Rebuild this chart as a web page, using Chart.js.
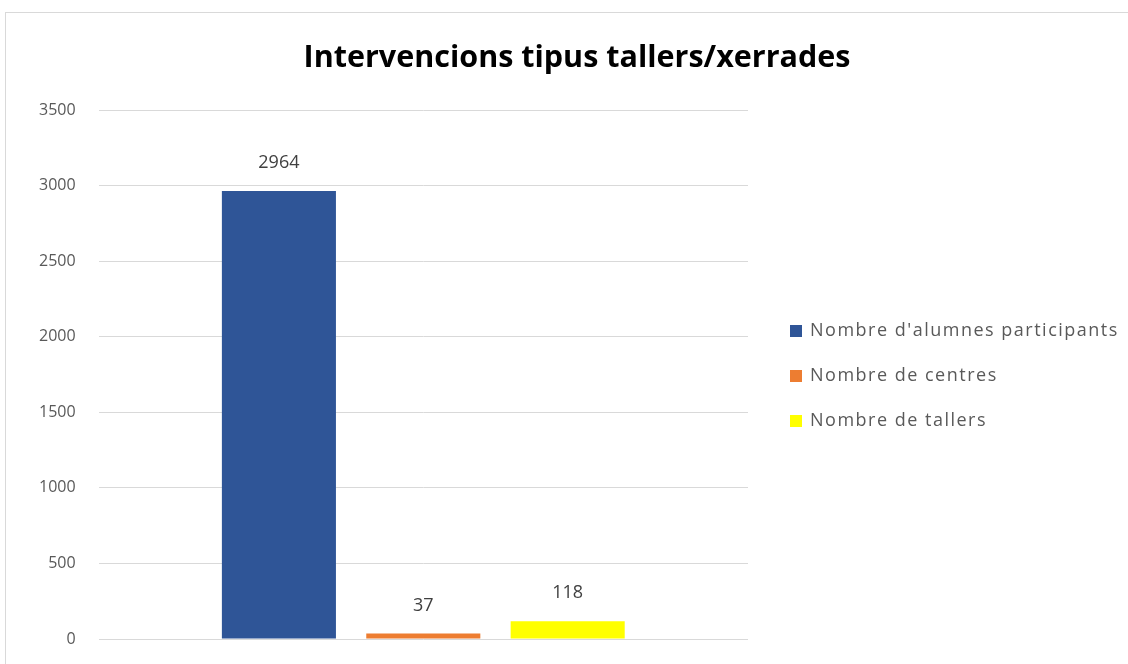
<!DOCTYPE html>
<html><head><meta charset="utf-8">
<script src="https://cdn.jsdelivr.net/npm/chart.js@4"></script>
<style>html,body{margin:0;padding:0;background:#fff}#wrap{width:1128px;height:664px;position:relative}</style>
</head><body><div id="wrap"><canvas id="c" width="1128" height="664"></canvas></div>
<script>
const categories = [''];
const seriesNames = ["Nombre d'alumnes participants", 'Nombre de centres', 'Nombre de tallers'];
const seriesValues = [[2964], [37], [118]];
const seriesColors = ['#2F5597', '#ED7D31', '#FFFF00'];
const yTicks = [0, 500, 1000, 1500, 2000, 2500, 3000, 3500];
const titleText = 'Intervencions tipus tallers/xerrades';

const frame = {
  id: 'frame',
  beforeDraw(chart) {
    const ctx = chart.ctx;
    ctx.save();
    ctx.fillStyle = '#fff';
    ctx.fillRect(0, 0, chart.width, chart.height);
    ctx.strokeStyle = '#d9d9d9';
    ctx.lineWidth = 1;
    ctx.strokeRect(5.5, 12.5, chart.width + 10, chart.height + 10);
    ctx.restore();
  },
  afterDraw(chart) {
    const ctx = chart.ctx;
    ctx.save();
    // title
    ctx.font = 'bold 30.5px "Open Sans"';
    ctx.fillStyle = '#000';
    ctx.textAlign = 'center';
    ctx.textBaseline = 'middle';
    ctx.fillText(titleText, 577, 58);
    // legend
    ctx.font = '18px "Open Sans"';
    ctx.letterSpacing = '1.5px';
    ctx.textAlign = 'left';
    chart.data.datasets.forEach((ds, i) => {
      const cy = 331 + i * 45;
      ctx.fillStyle = ds.backgroundColor;
      ctx.fillRect(790, cy - 6, 12, 12);
      ctx.fillStyle = '#595959';
      ctx.fillText(ds.label, 810, cy);
    });
    ctx.restore();
  }
};
const valueLabels = {
  id: 'valueLabels',
  afterDatasetsDraw(chart) {
    const ctx = chart.ctx;
    ctx.save();
    ctx.font = '18px "Open Sans"';
    ctx.fillStyle = '#404040';
    ctx.textAlign = 'center';
    ctx.textBaseline = 'middle';
    chart.data.datasets.forEach((ds, i) => {
      chart.getDatasetMeta(i).data.forEach((bar, j) => {
        ctx.fillText(String(ds.data[j]), bar.x, bar.y - 28);
      });
    });
    ctx.restore();
  }
};

new Chart(document.getElementById('c'), {
  type: 'bar',
  data: {
    labels: categories,
    datasets: seriesNames.map((n, i) => ({
      label: n, data: seriesValues[i], backgroundColor: seriesColors[i],
      categoryPercentage: 0.667, barPercentage: 0.79
    }))
  },
  options: {
    responsive: false, animation: false,
    layout: { padding: { left: 39, right: 380, top: 110, bottom: 25 } },
    plugins: {
      title: { display: false },
      legend: { display: false },
      tooltip: { enabled: false }
    },
    scales: {
      x: { display: false },
      y: { min: 0, max: 3500,
        afterBuildTicks: (s) => { s.ticks = yTicks.map(v => ({ value: v })); },
        grid: { color: '#d9d9d9', drawTicks: true, tickLength: 23, tickColor: 'rgba(0,0,0,0)' },
        border: { display: false },
        ticks: { color: '#595959', padding: 0, font: { family: 'Open Sans', size: 16 },
          callback: (v) => String(v) } }
    }
  },
  plugins: [frame, valueLabels]
});
</script></body></html>
